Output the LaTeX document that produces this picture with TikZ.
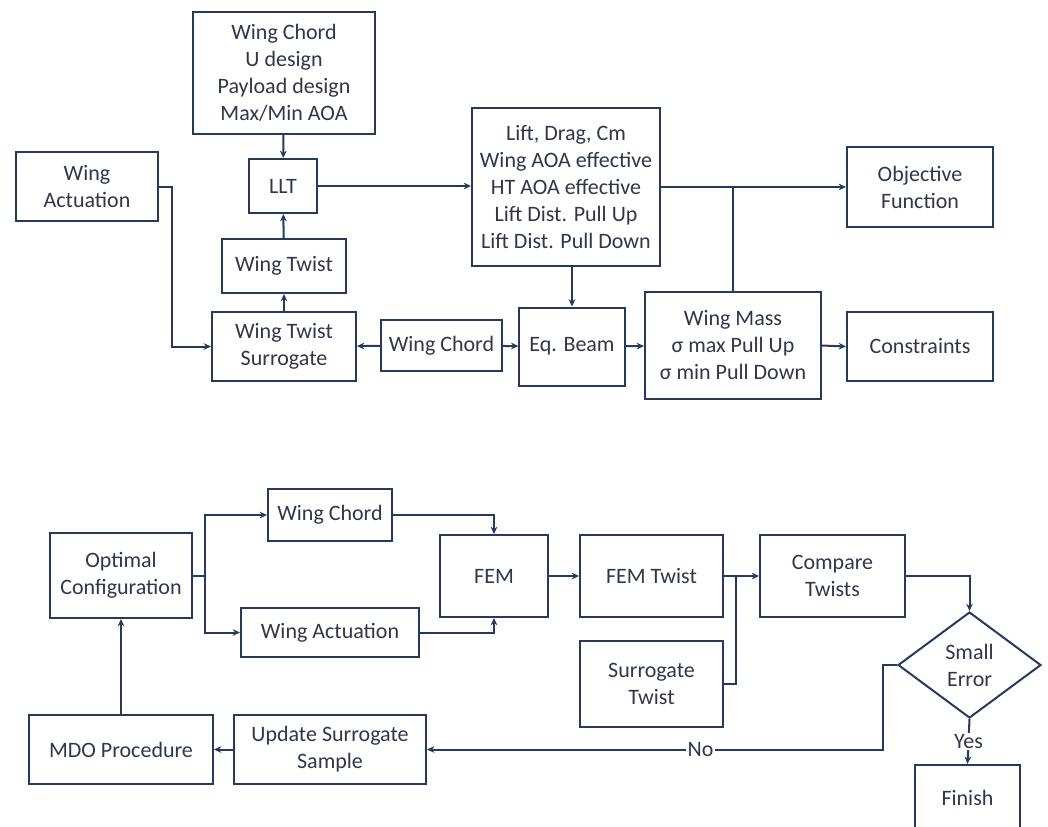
\documentclass[tikz,border=0pt]{standalone}
\usepackage{fontspec}
\setmainfont{Carlito}
\usepackage{xcolor}
\usepackage{tikz}
\usetikzlibrary{arrows.meta, shapes.geometric, positioning}

\definecolor{navy}{RGB}{38,58,94}
\definecolor{ink}{RGB}{48,54,76}

\tikzset{
    block/.style={draw=navy, line width=1.5pt, align=center, inner sep=2pt, text=ink},
    decide/.style={diamond, draw=navy, line width=1.5pt, align=center, inner sep=0pt, aspect=1.35, text=ink},
    link/.style={draw=navy, line width=1.5pt},
    tag/.style={fill=white, inner sep=1pt, text=ink}
}

\begin{document}
\begin{tikzpicture}[x=0.75pt, y=-0.75pt, >={Stealth[length=5.5pt,width=5pt]},
    every node/.append style={font=\fontsize{16.5}{20.25}\selectfont}]
    	\path[use as bounding box, fill=white] (0,0) rectangle (1048,826);

    % upper chart
    	\node[block, minimum width=136.5pt, minimum height=91.5pt] (inp) at (284,73) {Wing Chord\\U design\\Payload design\\Max/Min AOA};
    	\node[block, minimum width=106.5pt, minimum height=51.75pt] (act) at (87,186.5) {Wing\\Actuation};
    	\node[block, minimum width=51pt, minimum height=40.5pt] (llt) at (283,186) {LLT};
    	\node[block, minimum width=93pt, minimum height=40.5pt] (twist) at (284,266) {Wing Twist};
    	\node[block, minimum width=108pt, minimum height=51.75pt] (surr) at (284,346.5) {Wing Twist\\Surrogate};
    	\node[block, minimum width=90.75pt, minimum height=38.25pt] (chord) at (441.5,345.5) {Wing Chord};
    	\node[block, minimum width=141pt, minimum height=118.5pt] (aero) at (566,187) {Lift, Drag, Cm\\Wing AOA effective\\HT AOA effective\\Lift Dist. Pull Up\\Lift Dist. Pull Down};
    	\node[block, minimum width=79pt, minimum height=58.5pt] (beam) at (572,346.5) {Eq. Beam};
    	\node[block, minimum width=132pt, minimum height=80.25pt] (mass) at (733,345.5) {Wing Mass\\σ max Pull Up\\σ min Pull Down};
    	\node[block, minimum width=109.5pt, minimum height=60pt] (obj) at (920,187) {Objective\\Function};
    	\node[block, minimum width=109.5pt, minimum height=51.75pt] (cons) at (920,346.5) {Constraints};
    	\coordinate (actbend) at (172,186.5);
    	\coordinate (massup) at (mass.north |- aero.east);

    	\draw[->, link] (inp) -- (llt);
    	\draw[->, link] (twist) -- (llt);
    	\draw[->, link] (surr) -- (twist);
    	\draw[->, link] (chord) -- (surr);
    	\draw[->, link] (chord) -- (beam);
    	\draw[->, link] (llt) -- (llt -| aero.west);
    	\draw[->, link] (aero.east) -- (obj.west);
    	\draw[->, link] (beam) -- (mass);
    	\draw[->, link] (mass.east) -- (cons.west);
    	\draw[->, link] (beam.north |- aero.south) -- (beam.north);
    	\draw[->, link] (act.east) -- (actbend) |- (surr.west);
    	\draw[link] (mass.north) -- (massup);

    % lower chart
    	\node[block, minimum width=106.5pt, minimum height=63.75pt] (opt) at (121,575.5) {Optimal\\Configuration};
    	\node[block, minimum width=93pt, minimum height=39pt] (bchord) at (330,515) {Wing Chord};
    	\node[block, minimum width=133.5pt, minimum height=36.75pt] (bact) at (330,632.5) {Wing Actuation};
    	\node[block, minimum width=81pt, minimum height=61.5pt] (fem) at (494,576) {FEM};
    	\node[block, minimum width=107.25pt, minimum height=61.5pt] (femt) at (651.5,576) {FEM Twist};
    	\node[block, minimum width=108.75pt, minimum height=61.5pt] (cmp) at (832.5,576) {Compare\\Twists};
    	\node[block, minimum width=107.25pt, minimum height=64.5pt] (sur) at (651.5,684) {Surrogate\\Twist};
    	\node[decide, minimum width=107.25pt, minimum height=79.5pt] (err) at (969.5,665) {Small\\Error};
    	\node[block, minimum width=78.75pt, minimum height=49pt] (fin) at (967.5,797.5) {Finish};
    	\node[block, minimum width=144pt, minimum height=51.75pt] (upd) at (330,749.5) {Update Surrogate\\Sample};
    	\node[block, minimum width=138pt, minimum height=51.75pt] (mdo) at (121,749.5) {MDO Procedure};
    	\coordinate (split) at (205,575.5);
    	\coordinate (join) at (736,576);
    	\coordinate (nobend) at (883,665);

    	\draw[->, link] (fem) -- (femt);
    	\draw[->, link] (femt) -- (cmp);
    	\draw[->, link] (upd) -- (mdo);
    	\draw[->, link] (mdo) -- (opt);
    	\draw[->, link] (err.south) -- node[tag]{Yes} (fin.north);
    	\draw[link] (opt.east) -- (split);
    	\draw[->, link] (split) |- (bchord.west);
    	\draw[->, link] (split) |- (bact.west);
    	\draw[->, link] (bchord.east) -| (fem.north);
    	\draw[->, link] (bact.east) -| (fem.south);
    	\draw[link] (sur.east) -| (join);
    	\draw[->, link] (cmp.east) -| (err.north);
    	\draw[->, link] (err.west) -- (nobend) |- node[tag, pos=0.7]{No} (upd.east);

    \end{tikzpicture}
\end{document}
